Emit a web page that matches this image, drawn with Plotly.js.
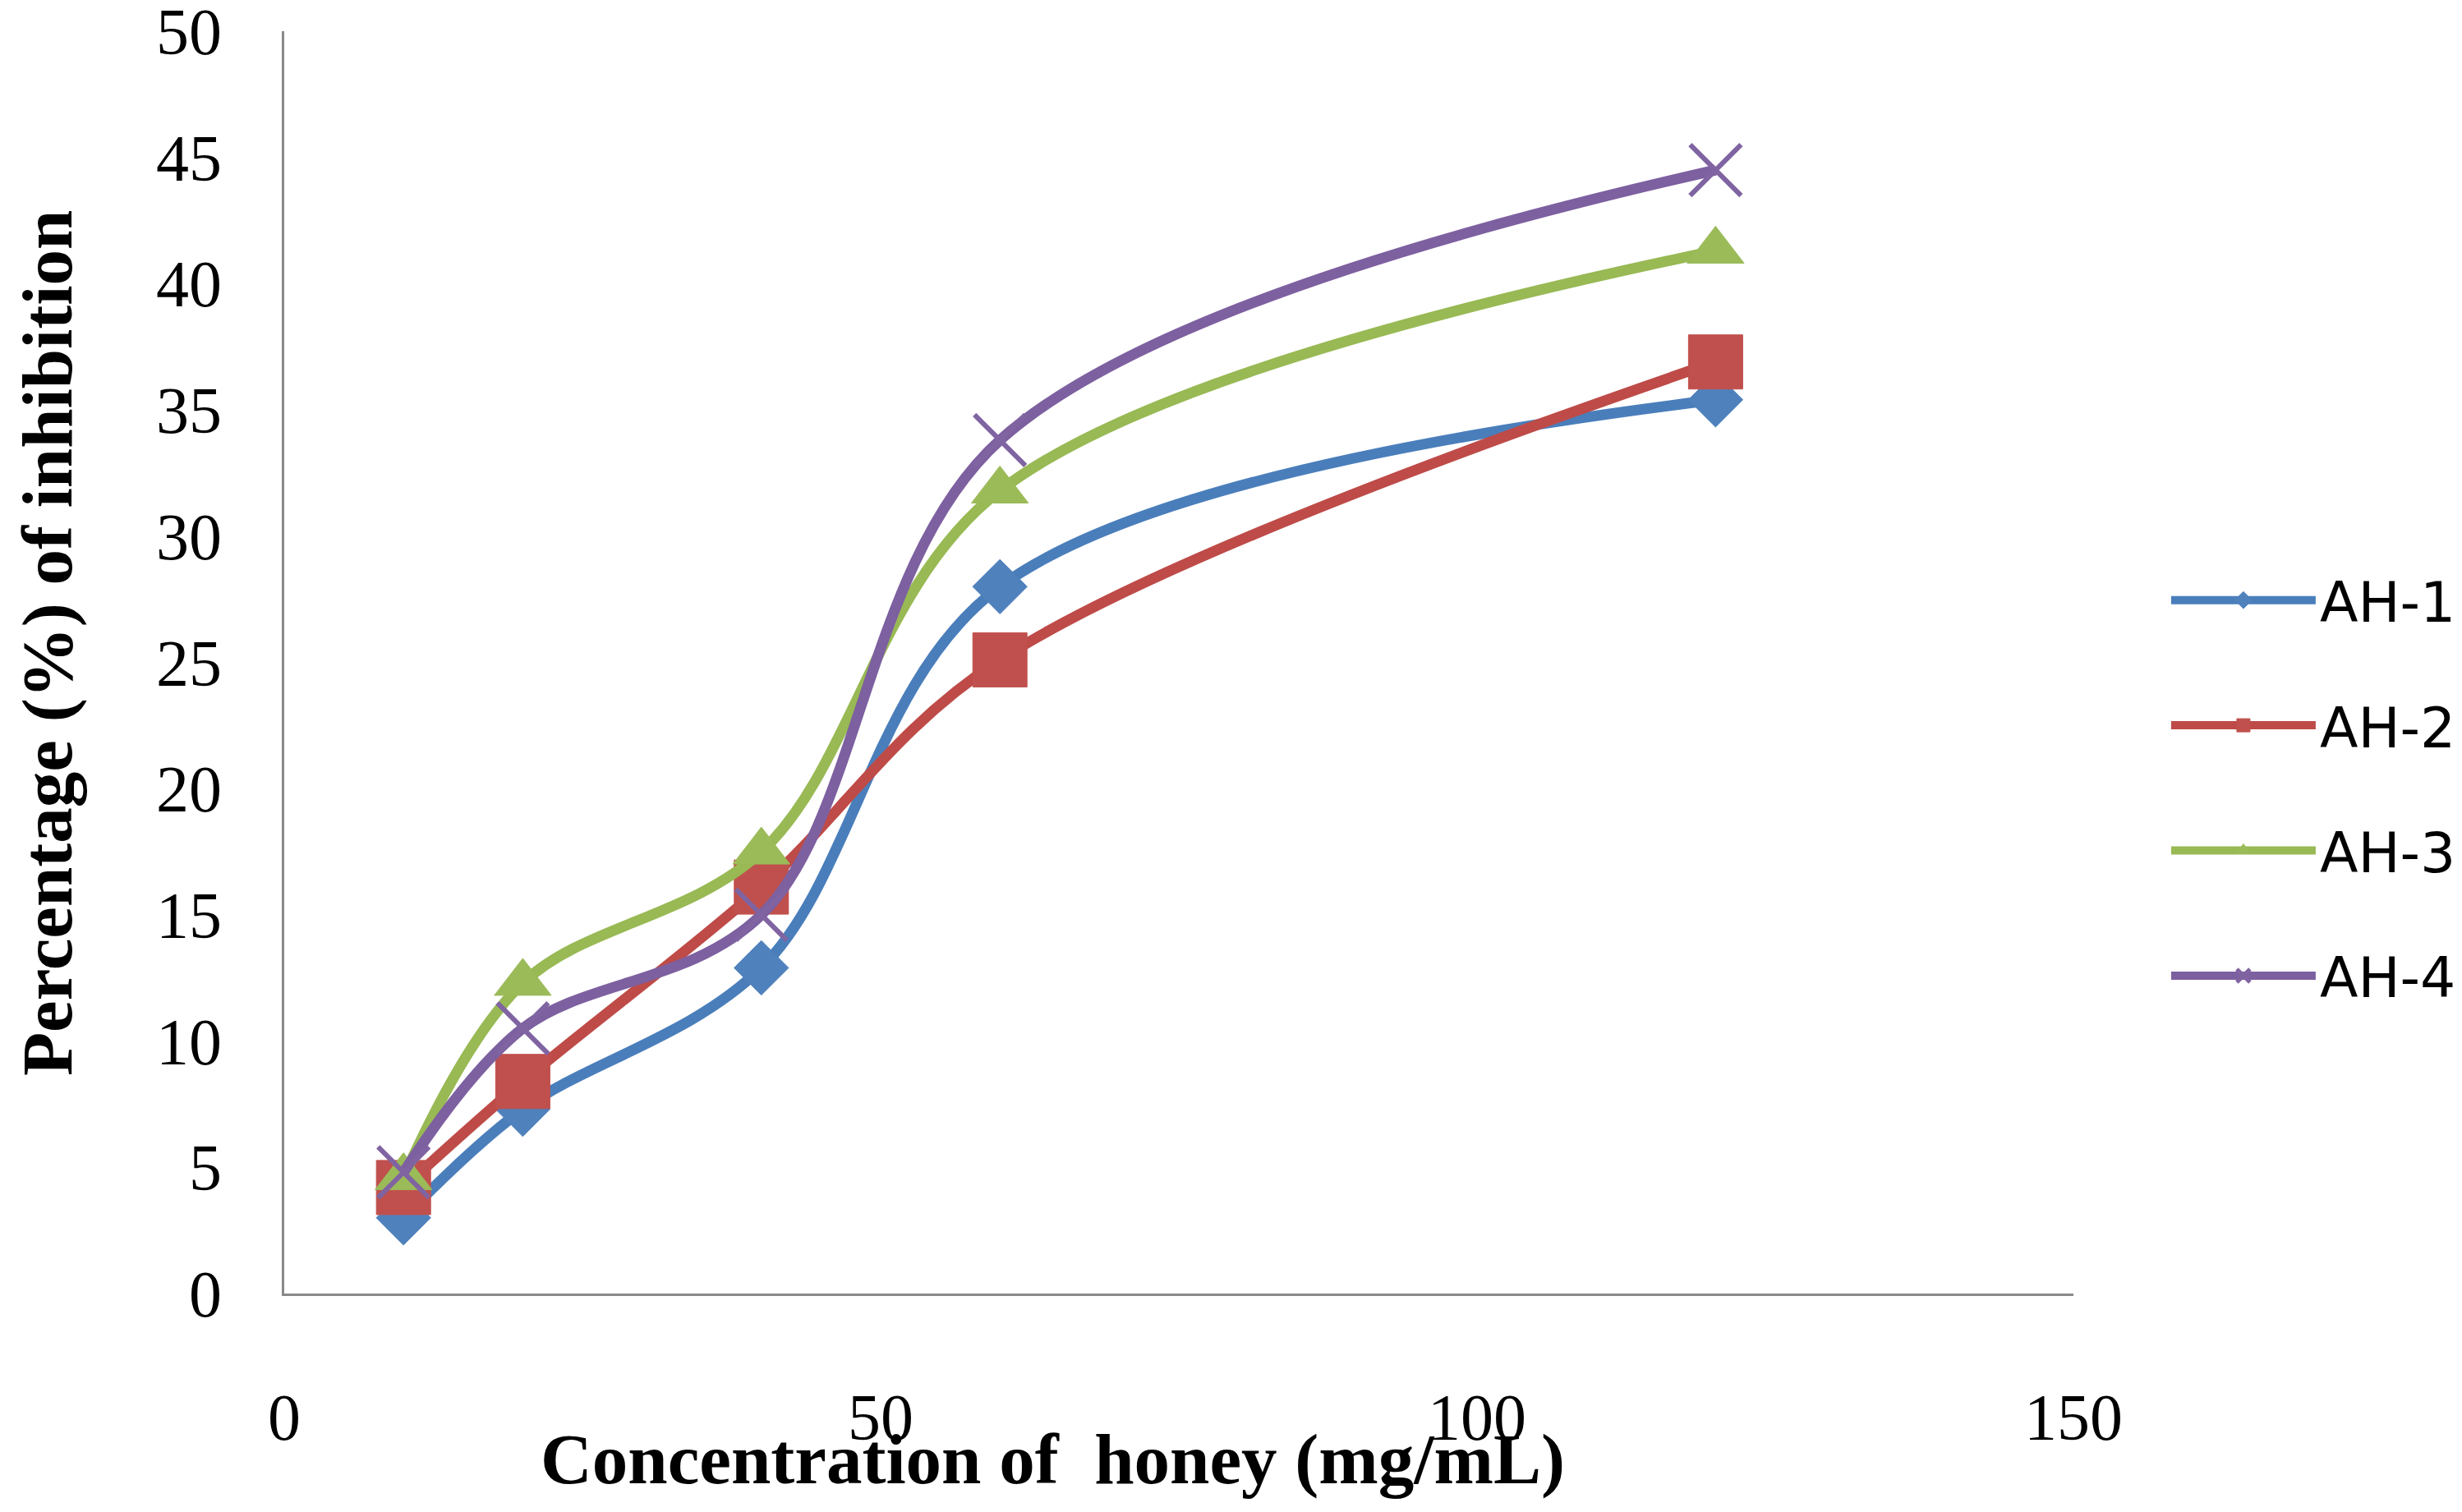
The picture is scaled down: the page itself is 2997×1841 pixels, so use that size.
<!DOCTYPE html>
<html>
<head>
<meta charset="utf-8">
<script src="https://cdn.plot.ly/plotly-3.0.1.min.js"></script>
<style>
  html, body { margin: 0; padding: 0; background: #fff; }
  #chart { width: 2997px; height: 1841px; }
</style>
</head>
<body>
<div id="chart"></div>
<script>
'use strict';
/* concentration of honey (mg/mL) */
var conc = [10, 20, 40, 60, 120];

/* percentage of inhibition per sample */
var ah1 = [3.0, 7.3, 12.9, 28.0, 35.4];
var ah2 = [4.2, 8.4, 16.1, 25.1, 36.9];
var ah3 = [4.6, 12.3, 17.5, 31.8, 41.3];
var ah4 = [4.8, 10.5, 15.0, 33.8, 44.5];

var names = ['AH-1', 'AH-2', 'AH-3', 'AH-4'];

var xTicks = [0, 50, 100, 150];
var yTicks = [0, 5, 10, 15, 20, 25, 30, 35, 40, 45, 50];

function series(y, i, lineColor, markerColor, symbol, size, extra) {
  var marker = { symbol: symbol, size: size, color: markerColor,
    line: { color: markerColor, width: 1 } };
  if (extra) marker.line = extra;
  return {
    x: conc,
    y: y,
    name: names[i],
    legendgroup: names[i],
    type: 'scatter',
    mode: 'lines+markers',
    line: { color: lineColor, width: 13, shape: 'spline', smoothing: 1 },
    marker: marker,
    hoverinfo: 'x+y'
  };
}

var data = [
  series(ah1, 0, '#4A7EBB', '#4F81BD', 'diamond', 51),
  series(ah2, 1, '#BE4B48', '#C0504D', 'square', 66),
  series(ah3, 2, '#98B954', '#9BBB59', 'triangle-up', 60),
  series(ah4, 3, '#7D60A0', '#8064A2', 'x-thin', 62, { color: '#8064A2', width: 6 })
];

var tickFont = { family: 'Liberation Serif, Times New Roman, serif', size: 80, color: '#000' };
var titleFont = { family: 'Liberation Serif, Times New Roman, serif', size: 87, color: '#000' };

var layout = {
  width: 2997,
  height: 1841,
  margin: { l: 346, r: 473, t: 38, b: 266, autoexpand: false },
  paper_bgcolor: '#fff',
  plot_bgcolor: '#fff',
  showlegend: true,
  xaxis: {
    range: [0, 150],
    tickvals: xTicks,
    ticktext: xTicks.map(String),
    showgrid: false,
    zeroline: false,
    showline: true,
    linecolor: '#898989',
    linewidth: 3,
    ticks: '',
    ticklabelstandoff: 79,
    ticklabeloverflow: 'allow',
    tickfont: tickFont
  },
  yaxis: {
    range: [0, 50],
    tickvals: yTicks,
    ticktext: yTicks.map(String),
    showgrid: false,
    zeroline: false,
    showline: true,
    linecolor: '#898989',
    linewidth: 3,
    ticks: '',
    ticklabelstandoff: 57,
    ticklabeloverflow: 'allow',
    tickfont: tickFont
  },
  legend: {
    x: 1.0523,
    y: 0.5823,
    xanchor: 'left',
    yanchor: 'top',
    itemwidth: 176,
    tracegroupgap: 61,
    font: { family: 'DejaVu Sans, sans-serif', size: 68, color: '#000' },
    bgcolor: 'rgba(0,0,0,0)'
  },
  annotations: [
    {
      text: '<b>Concentration of\u00a0 honey (mg/mL)</b>',
      xref: 'paper', yref: 'paper',
      x: 0.4293, y: -0.1314,
      xanchor: 'center', yanchor: 'middle',
      showarrow: false,
      font: titleFont
    },
    {
      text: '<b>Percentage (%) of inhibition</b>',
      xref: 'paper', yref: 'paper',
      x: -0.1322, y: 0.5153,
      xanchor: 'center', yanchor: 'middle',
      textangle: -90,
      showarrow: false,
      font: titleFont
    }
  ]
};

Plotly.newPlot('chart', data, layout, { displayModeBar: false, staticPlot: true });
</script>
</body>
</html>
